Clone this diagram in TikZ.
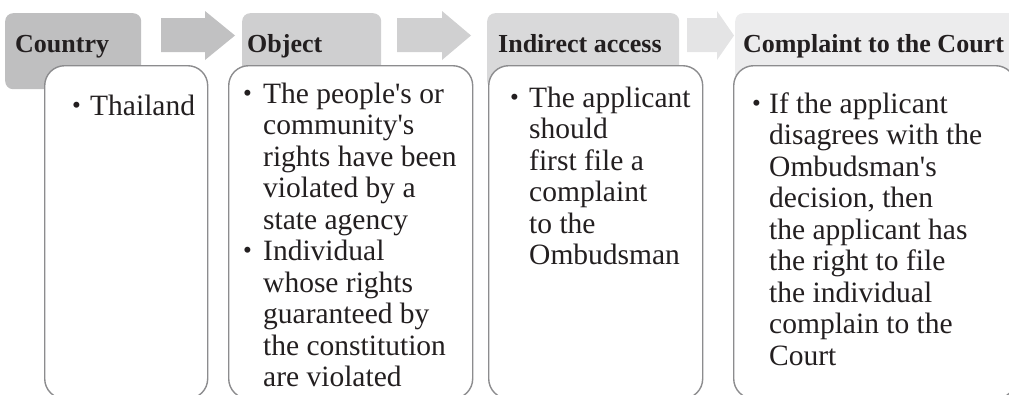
\documentclass[tikz,border=0pt]{standalone}
\usepackage{fontspec}
\usepackage{graphicx}
\setmainfont{Liberation Serif}
\definecolor{hdA}{RGB}{191,191,192}
\definecolor{arA}{RGB}{193,193,194}
\definecolor{hdB}{RGB}{207,207,208}
\definecolor{arB}{RGB}{208,208,209}
\definecolor{hdC}{RGB}{217,217,218}
\definecolor{arC}{RGB}{228,228,229}
\definecolor{hdD}{RGB}{236,236,237}
\definecolor{edgegray}{RGB}{140,140,142}
\definecolor{ink}{RGB}{35,31,32}
\newcommand{\bul}[1]{\llap{\makebox[#1pt][l]{\raisebox{2pt}{\scalebox{0.85}{\textbullet}}}}}
\newcommand{\ap}{\textquotesingle}
\begin{document}
\begin{tikzpicture}[x=1pt,y=-1pt,
  hdr/.style={rectangle, rounded corners=8pt, inner sep=0pt, anchor=north west, minimum height=76pt},
  bodybox/.style={rectangle, rounded corners=20pt, draw=edgegray, line width=1.4pt, fill=white, inner sep=0pt, anchor=north west, minimum height=333pt},
  htext/.style={anchor=base west, inner sep=0pt, text=ink, font=\fontsize{26}{30}\selectfont\bfseries},
  btext/.style={anchor=base west, inner sep=0pt, text=ink, font=\fontsize{29.5}{31.5}\selectfont}]
\useasboundingbox (0,0) rectangle (1009,394);
\clip (0,0) rectangle (1009,394);
% arrows
\fill[arA] (161,18) -- (205,18) -- (205,11) -- (235,35.5) -- (205,60) -- (205,52) -- (161,52) -- cycle;
\fill[arB] (397,18) -- (442,18) -- (442,11) -- (471,35.5) -- (442,60) -- (442,52) -- (397,52) -- cycle;
\fill[arC] (687,18) -- (717,18) -- (717,11) -- (734,35.5) -- (717,60) -- (717,52) -- (687,52) -- cycle;
% headers
\node[hdr, fill=hdA, minimum width=136pt] (h1) at (5,13) {};
\node[hdr, fill=hdB, minimum width=139pt] (h2) at (242,13) {};
\node[hdr, fill=hdC, minimum width=192pt] (h3) at (487,13) {};
\node[hdr, fill=hdD, minimum width=290pt] (h4) at (735,13) {};
% header texts
\node[htext] (ht1) at (15,52) {Country};
\node[htext] (ht2) at (247,52) {Object};
\node[htext] (ht3) at (498,52) {Indirect access};
\node[htext] (ht4) at (743,52) {Complaint to the Court};
% body boxes
\node[bodybox, minimum width=163pt] (b1) at (44,65) {};
\node[bodybox, minimum width=244pt] (b2) at (228,65) {};
\node[bodybox, minimum width=214pt] (b3) at (488,65) {};
\node[bodybox, minimum width=282pt] (b4) at (733,65) {};
% body texts
\node[btext] (t1) at (90,115) {\begin{tabular}[t]{@{}l@{}}\bul{18}Thailand\end{tabular}};
\node[btext] (t2) at (263,103) {\begin{tabular}[t]{@{}l@{}}\bul{20}The people\ap s or\\ community\ap s\\ rights have been\\ violated by a\\ state agency\\ \bul{20}Individual\\ whose rights\\ guaranteed by\\ the constitution\\ are violated\end{tabular}};
\node[btext] (t3) at (529,107) {\begin{tabular}[t]{@{}l@{}}\bul{19}The applicant\\ should\\ first file a\\ complaint\\ to the\\ Ombudsman\end{tabular}};
\node[btext] (t4) at (769,113) {\begin{tabular}[t]{@{}l@{}}\bul{17}If the applicant\\ disagrees with the\\ Ombudsman\ap s\\ decision, then\\ the applicant has\\ the right to file\\ the individual\\ complain to the\\ Court\end{tabular}};
\end{tikzpicture}
\end{document}
